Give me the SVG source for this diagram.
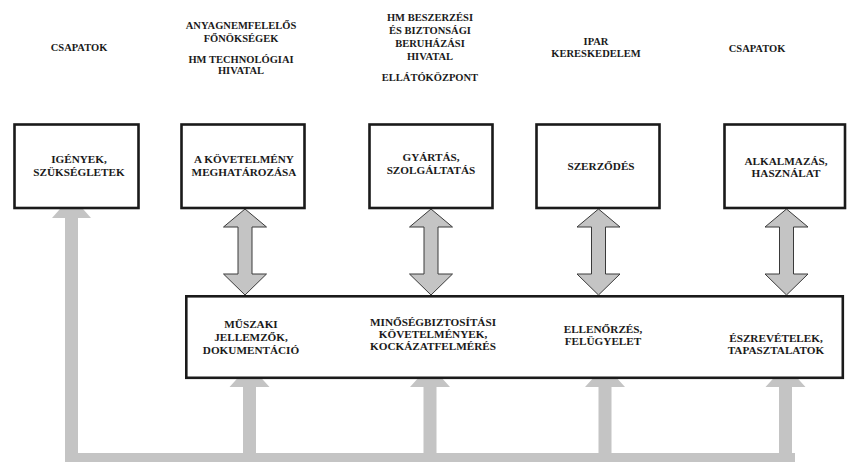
<svg xmlns="http://www.w3.org/2000/svg" width="847" height="463" viewBox="0 0 847 463">
<style>
.hdr{font-family:"Liberation Serif","Times New Roman",serif;font-weight:bold;font-size:10.5px;fill:#1a1a1a;text-anchor:middle}
.lbl{font-family:"Liberation Serif","Times New Roman",serif;font-weight:bold;font-size:11.2px;fill:#1a1a1a;text-anchor:middle}
.box{fill:#ffffff;stroke:#1a1a1a;stroke-width:2.6}
.dbl{fill:#c4c4c4;stroke:#3a3a3a;stroke-width:1}
.fb{fill:#c4c4c4;stroke:none}
</style>
<defs>
<path id="dblArrow" d="M0,209 L21.5,227 L7,227 L7,274 L21.5,274 L0,295 L-21.5,274 L-7,274 L-7,227 L-21.5,227 Z"/>
<path id="upHead" d="M0,-22 L20,0 L6.5,0 L6.5,67 L-6.5,67 L-6.5,0 L-20,0 Z"/>
</defs>
<rect width="847" height="463" fill="#ffffff"/>

<g id="connectors">
  <!-- feedback loop -->
  <path class="fb" d="M71.5,196 L91,218 L78,218 L78,460 L65,460 L65,218 L52,218 Z"/>
  <rect class="fb" x="65" y="453" width="730" height="9"/>
  <use href="#upHead" class="fb" x="249.5" y="387"/>
  <use href="#upHead" class="fb" x="430" y="387"/>
  <use href="#upHead" class="fb" x="605" y="387"/>
  <use href="#upHead" class="fb" x="785.5" y="387"/>
  <!-- double arrows -->
  <use href="#dblArrow" class="dbl" x="245" y="0"/>
  <use href="#dblArrow" class="dbl" x="431" y="0"/>
  <use href="#dblArrow" class="dbl" x="598.5" y="0"/>
  <use href="#dblArrow" class="dbl" x="786.5" y="0"/>
</g>

<g id="headers">
  <text class="hdr" x="79" y="51">CSAPATOK</text>
  <text class="hdr" x="241" y="29">ANYAGNEMFELELŐS</text>
  <text class="hdr" x="241" y="41.5">FŐNÖKSÉGEK</text>
  <text class="hdr" x="241" y="63">HM TECHNOLÓGIAI</text>
  <text class="hdr" x="241" y="74">HIVATAL</text>
  <text class="hdr" x="430" y="21">HM BESZERZÉSI</text>
  <text class="hdr" x="430" y="34">ÉS BIZTONSÁGI</text>
  <text class="hdr" x="430" y="47">BERUHÁZÁSI</text>
  <text class="hdr" x="430" y="60">HIVATAL</text>
  <text class="hdr" x="430" y="81">ELLÁTÓKÖZPONT</text>
  <text class="hdr" x="596" y="45">IPAR</text>
  <text class="hdr" x="596" y="57">KERESKEDELEM</text>
  <text class="hdr" x="757" y="52">CSAPATOK</text>
</g>

<g id="node-igenyek">
  <rect class="box" x="14.5" y="124.5" width="124" height="83.5"/>
  <text class="lbl" x="79" y="163">IGÉNYEK,</text>
  <text class="lbl" x="79" y="176">SZÜKSÉGLETEK</text>
</g>
<g id="node-kovetelmeny">
  <rect class="box" x="181.5" y="124.5" width="123" height="83.5"/>
  <text class="lbl" x="244" y="163">A KÖVETELMÉNY</text>
  <text class="lbl" x="244" y="176">MEGHATÁROZÁSA</text>
</g>
<g id="node-gyartas">
  <rect class="box" x="369.5" y="124.5" width="123" height="83.5"/>
  <text class="lbl" x="431" y="161">GYÁRTÁS,</text>
  <text class="lbl" x="431" y="174">SZOLGÁLTATÁS</text>
</g>
<g id="node-szerzodes">
  <rect class="box" x="536.5" y="124.5" width="123" height="83.5"/>
  <text class="lbl" x="601" y="170">SZERZŐDÉS</text>
</g>
<g id="node-alkalmazas">
  <rect class="box" x="724.5" y="124.5" width="120.5" height="83.5"/>
  <text class="lbl" x="786" y="165">ALKALMAZÁS,</text>
  <text class="lbl" x="786" y="177">HASZNÁLAT</text>
</g>

<g id="node-bottom">
  <rect class="box" x="186.3" y="296.3" width="656.5" height="81.5"/>
  <text class="lbl" x="251" y="328">MŰSZAKI</text>
  <text class="lbl" x="251" y="341">JELLEMZŐK,</text>
  <text class="lbl" x="251" y="354">DOKUMENTÁCIÓ</text>
  <text class="lbl" x="433" y="326">MINŐSÉGBIZTOSÍTÁSI</text>
  <text class="lbl" x="433" y="338">KÖVETELMÉNYEK,</text>
  <text class="lbl" x="433" y="350">KOCKÁZATFELMÉRÉS</text>
  <text class="lbl" x="603" y="333">ELLENŐRZÉS,</text>
  <text class="lbl" x="603" y="345">FELÜGYELET</text>
  <text class="lbl" x="776" y="342">ÉSZREVÉTELEK,</text>
  <text class="lbl" x="776" y="354">TAPASZTALATOK</text>
</g>
</svg>
